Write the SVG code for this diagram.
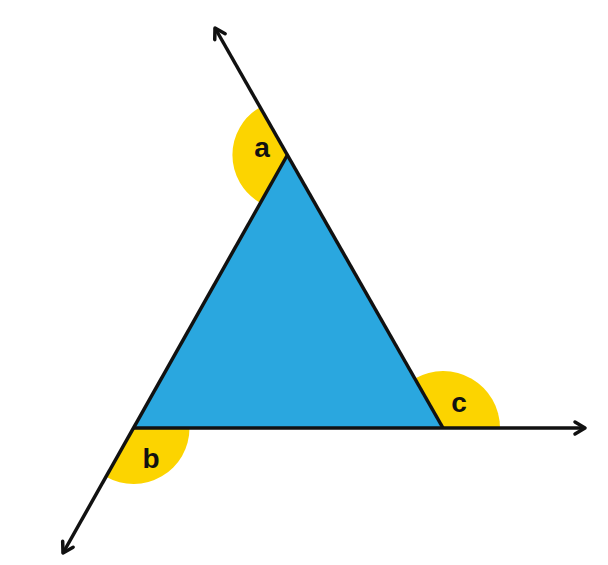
<svg xmlns="http://www.w3.org/2000/svg" width="608" height="565" viewBox="0 0 608 565">
<style>
.ang{fill:#FCD400;}
.tri{fill:#2AA7DF;}
.ln{stroke:#111;stroke-width:3.5;fill:none;marker-end:url(#arr);}
.lbl{font-family:"Liberation Sans",Arial,sans-serif;font-weight:bold;font-size:28px;fill:#111;text-anchor:middle;}
</style>
<defs>
<marker id="arr" markerUnits="userSpaceOnUse" markerWidth="16" markerHeight="16" refX="13" refY="8" orient="auto" overflow="visible">
<path d="M3,2 L13,8 L3,14" fill="none" stroke="#111" stroke-width="3.5" stroke-linecap="round" stroke-linejoin="round"/>
</marker>
</defs>
<rect width="608" height="565" fill="#fff"/>
<g id="angle-a"><path class="ang" d="M287.4,155 L260.2,107.2 A55,55 0 0 0 260.4,202.9 Z"/></g>
<g id="angle-b"><path class="ang" d="M133.5,428 L189.5,428 A56,56 0 0 1 106,476.8 Z"/></g>
<g id="angle-c"><path class="ang" d="M443,428 L500,428 A57,57 0 0 0 414.8,378.5 Z"/></g>
<g id="triangle"><polygon class="tri" points="287.4,155 133.5,428 443,428"/></g>
<g id="connectors">
<line class="ln" x1="443" y1="428" x2="215" y2="28"/>
<line class="ln" x1="287.4" y1="155" x2="63" y2="553"/>
<line class="ln" x1="133.5" y1="428" x2="585" y2="428"/>
</g>
<g id="labels">
<text class="lbl" x="262" y="157">a</text>
<text class="lbl" x="151" y="468">b</text>
<text class="lbl" x="459" y="412">c</text>
</g>
</svg>
